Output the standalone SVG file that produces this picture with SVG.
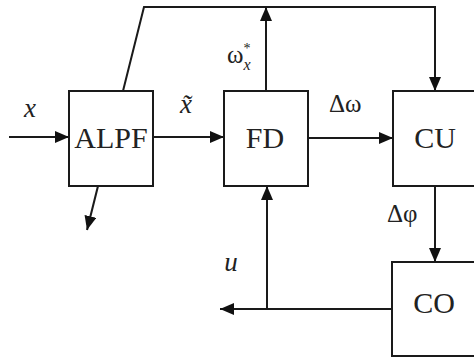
<svg xmlns="http://www.w3.org/2000/svg" width="474" height="358" viewBox="0 0 474 358">
<style>
.box{fill:#fff;stroke:#1a1a1a;stroke-width:2}
.ln{fill:none;stroke:#1a1a1a;stroke-width:2}
.nt{font-family:"Liberation Serif","Times New Roman",serif;font-size:30px;fill:#222;text-anchor:middle}
.lb{font-family:"Liberation Serif","Times New Roman",serif;font-size:25px;fill:#222}
.it{font-family:"Liberation Serif","Times New Roman",serif;font-style:italic;font-size:27px;fill:#222}
.sup{font-size:14px}
.sub{font-style:italic;font-size:16px}
</style>
<defs>
<marker id="ah" markerUnits="userSpaceOnUse" markerWidth="14" markerHeight="12" refX="14" refY="6" orient="auto">
<path d="M0,0 L14,6 L0,12 z" fill="#111"/>
</marker>
</defs>
<rect width="474" height="358" fill="#fff"/>
<g id="connectors">
<line class="ln" x1="9" y1="137" x2="69" y2="137" marker-end="url(#ah)"/>
<line class="ln" x1="153" y1="137" x2="224" y2="137" marker-end="url(#ah)"/>
<line class="ln" x1="308" y1="138" x2="393" y2="138" marker-end="url(#ah)"/>
<polyline class="ln" points="123,91 144,7 435,7 435,91" marker-end="url(#ah)"/>
<line class="ln" x1="266" y1="91" x2="266" y2="7" marker-end="url(#ah)"/>
<line class="ln" x1="98" y1="186" x2="87" y2="230" marker-end="url(#ah)"/>
<line class="ln" x1="435" y1="186" x2="435" y2="262" marker-end="url(#ah)"/>
<line class="ln" x1="392" y1="309" x2="220" y2="309" marker-end="url(#ah)"/>
<line class="ln" x1="267" y1="309" x2="267" y2="186" marker-end="url(#ah)"/>
<text class="it" x="30" y="117" text-anchor="middle">x</text>
<text class="it" x="186" y="113" text-anchor="middle">x̃</text>
<text class="lb" x="227" y="63">ω<tspan class="sup" dy="-10">*</tspan><tspan class="sub" dx="-7" dy="17">x</tspan></text>
<text class="lb" x="329" y="112">Δω</text>
<text class="lb" x="387" y="222">Δφ</text>
<text class="it" x="231" y="271" text-anchor="middle">u</text>
</g>
<g id="ALPF">
<rect class="box" x="69" y="91" width="84" height="95"/>
<text class="nt" x="111" y="148">ALPF</text>
</g>
<g id="FD">
<rect class="box" x="224" y="91" width="84" height="95"/>
<text class="nt" x="265" y="148">FD</text>
</g>
<g id="CU">
<rect class="box" x="393" y="91" width="84" height="95"/>
<text class="nt" x="435" y="148">CU</text>
</g>
<g id="CO">
<rect class="box" x="392" y="262" width="84" height="94"/>
<text class="nt" x="434" y="313">CO</text>
</g>
</svg>
